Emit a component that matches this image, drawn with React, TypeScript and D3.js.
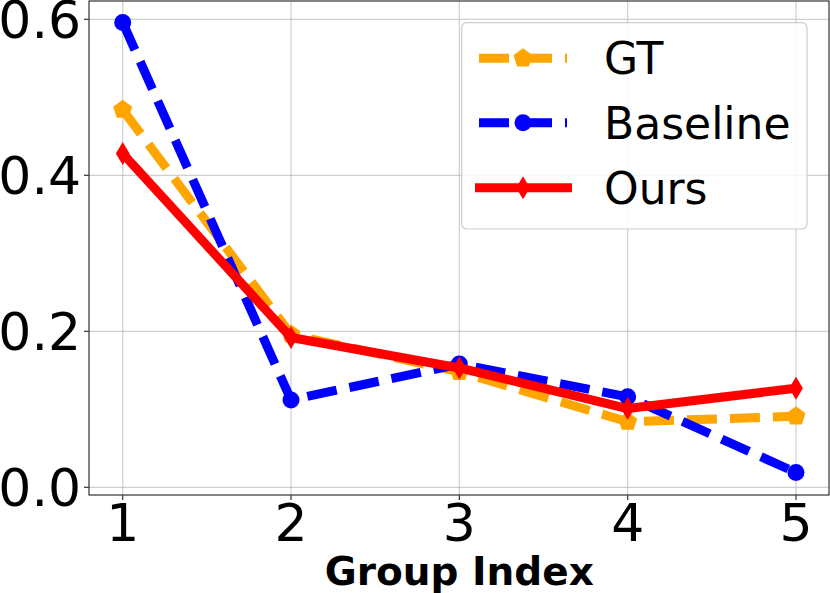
import React from 'react'
import * as d3 from 'd3'

// data
const groups = [1, 2, 3, 4, 5]
const gtValues = [0.484, 0.196, 0.148, 0.084, 0.091]
const baselineValues = [0.596, 0.112, 0.158, 0.116, 0.019]
const oursValues = [0.428, 0.192, 0.153, 0.101, 0.127]
const yTicks = [0.0, 0.2, 0.4, 0.6]
const seriesNames = ['GT', 'Baseline', 'Ours']

const W = 830
const H = 593
const plot = { left: 89, right: 829, top: 1, bottom: 495 }
const font = 'DejaVu Sans, sans-serif'

const pentagon = (cx: number, cy: number, r: number) => {
  const pts = d3.range(5).map((i) => {
    const a = -Math.PI / 2 + (i * 2 * Math.PI) / 5
    return [cx + r * Math.cos(a), cy + r * Math.sin(a)]
  })
  return 'M' + pts.map((p) => p.join(',')).join('L') + 'Z'
}

const thinDiamond = (cx: number, cy: number, h: number) => {
  const w = h * 0.6
  return `M${cx},${cy - h / 2}L${cx + w / 2},${cy}L${cx},${cy + h / 2}L${cx - w / 2},${cy}Z`
}

const App = () => {
  const ref = React.useRef<SVGSVGElement | null>(null)

  React.useEffect(() => {
    const x = d3.scaleLinear().domain([1, 5]).range([122.7, 796])
    const y = d3.scaleLinear().domain([0, 0.6]).range([487.3, 19.3])

    const svg = d3.select(ref.current)
    svg.selectAll('*').remove()

    svg.append('rect').attr('width', W).attr('height', H).attr('fill', '#fff')

    // grid
    const grid = svg.append('g').attr('stroke', '#b0b0b0').attr('stroke-opacity', 0.6).attr('stroke-width', 1.2)
    groups.forEach((g) => {
      grid.append('line').attr('x1', x(g)).attr('x2', x(g)).attr('y1', plot.top).attr('y2', plot.bottom)
    })
    yTicks.forEach((t) => {
      grid.append('line').attr('x1', plot.left).attr('x2', plot.right).attr('y1', y(t)).attr('y2', y(t))
    })

    const series = [
      { name: seriesNames[0], values: gtValues, color: 'orange', dash: '30,13', marker: 'pentagon' },
      { name: seriesNames[1], values: baselineValues, color: 'blue', dash: '30,13', marker: 'circle' },
      { name: seriesNames[2], values: oursValues, color: 'red', dash: null, marker: 'diamond' },
    ]

    const line = d3
      .line<number>()
      .x((_, i) => x(groups[i]))
      .y((d) => y(d))

    const drawMarker = (g: any, type: string, cx: number, cy: number, color: string) => {
      if (type === 'circle') g.append('circle').attr('cx', cx).attr('cy', cy).attr('r', 8.5).attr('fill', color)
      else if (type === 'pentagon') g.append('path').attr('d', pentagon(cx, cy, 10)).attr('fill', color)
      else g.append('path').attr('d', thinDiamond(cx, cy, 23)).attr('fill', color)
    }

    const clip = svg
      .append('defs')
      .append('clipPath')
      .attr('id', 'plotclip')
      .append('rect')
      .attr('x', plot.left)
      .attr('y', plot.top)
      .attr('width', plot.right - plot.left)
      .attr('height', plot.bottom - plot.top)
    void clip

    series.forEach((s) => {
      const g = svg.append('g')
      g.append('path')
        .attr('d', line(s.values))
        .attr('fill', 'none')
        .attr('stroke', s.color)
        .attr('stroke-width', 9)
        .attr('stroke-linejoin', 'round')
        .attr('stroke-dasharray', s.dash)
      s.values.forEach((v, i) => drawMarker(g, s.marker, x(groups[i]), y(v), s.color))
    })

    // spines
    svg
      .append('rect')
      .attr('x', plot.left)
      .attr('y', plot.top)
      .attr('width', plot.right - plot.left)
      .attr('height', plot.bottom - plot.top)
      .attr('fill', 'none')
      .attr('stroke', '#333')
      .attr('stroke-width', 1.2)

    // ticks
    const ax = svg.append('g').attr('font-family', font).attr('fill', '#000')
    groups.forEach((g) => {
      ax.append('line').attr('x1', x(g)).attr('x2', x(g)).attr('y1', plot.bottom).attr('y2', plot.bottom + 5).attr('stroke', '#333').attr('stroke-width', 1.2)
      ax.append('text').attr('x', x(g)).attr('y', 540.7).attr('text-anchor', 'middle').attr('font-size', 52).text(String(g))
    })
    yTicks.forEach((t) => {
      ax.append('line').attr('x1', plot.left - 5).attr('x2', plot.left).attr('y1', y(t)).attr('y2', y(t)).attr('stroke', '#333').attr('stroke-width', 1.2)
      ax.append('text').attr('x', 81).attr('y', y(t)).attr('dy', '0.365em').attr('text-anchor', 'end').attr('font-size', 52).text(d3.format('.1f')(t))
    })

    ax.append('text')
      .attr('x', x(3))
      .attr('y', 585)
      .attr('text-anchor', 'middle')
      .attr('font-size', 39)
      .attr('font-weight', 'bold')
      .text('Group Index')

    // legend
    const lg = svg.append('g')
    lg.append('rect')
      .attr('x', 461.7)
      .attr('y', 22.7)
      .attr('width', 345.3)
      .attr('height', 206.3)
      .attr('rx', 5)
      .attr('fill', '#fff')
      .attr('fill-opacity', 0.8)
      .attr('stroke', '#ccc')
      .attr('stroke-width', 1.2)
    const rows = [58.3, 122.7, 187.7]
    series.forEach((s, i) => {
      const cy = rows[i]
      lg.append('line')
        .attr('x1', s.dash ? 479 : 475)
        .attr('x2', s.dash ? 567 : 572)
        .attr('y1', cy)
        .attr('y2', cy)
        .attr('stroke', s.color)
        .attr('stroke-width', 9)
        .attr('stroke-dasharray', s.dash)
      drawMarker(lg, s.marker, 523, cy, s.color)
      lg.append('text')
        .attr('x', 604)
        .attr('y', cy)
        .attr('dy', '0.365em')
        .attr('font-family', font)
        .attr('font-size', 44)
        .text(s.name)
    })
  }, [])

  return <svg ref={ref} width={W} height={H} style={{ position: 'absolute', left: 0, top: 0 }}></svg>
}

export default App
